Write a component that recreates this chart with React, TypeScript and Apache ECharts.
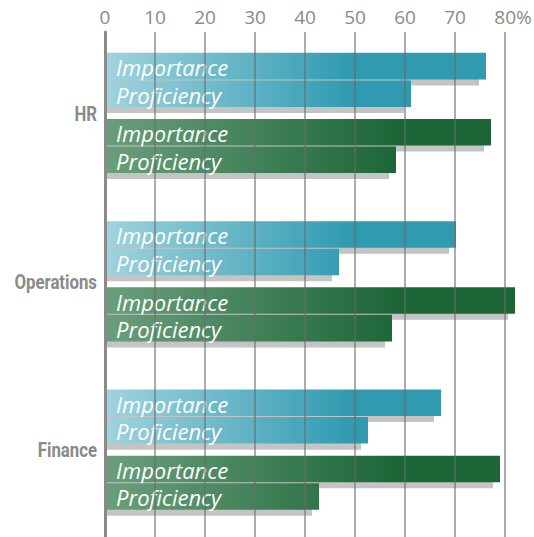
import React, { useEffect, useRef } from "react";
import * as echarts from "echarts";

// Skill areas, top to bottom
const categories = ["HR", "Operations", "Finance"];
// Bar captions inside each pair
const measures = ["Importance", "Proficiency"];
// Percent values, teal group
const tealImportance = [76.2, 70.2, 67.2];
const tealProficiency = [61.2, 46.8, 52.6];
// Percent values, green group
const greenImportance = [77.2, 82.0, 79.0];
const greenProficiency = [58.2, 57.4, 42.8];
// Axis ticks
const xTicks = [0, 10, 20, 30, 40, 50, 60, 70, 80];

const GRAY = "#8a8a8a";

export default function App() {
  const ref = useRef<HTMLDivElement>(null);

  useEffect(() => {
    if (!ref.current) return;
    const chart = echarts.init(ref.current, undefined, { renderer: "svg" });

    // [value, categoryIndex, slot] where slot 0..3 = teal imp, teal prof, green imp, green prof
    const rows: number[][] = [];
    categories.forEach((_, i) => {
      rows.push([tealImportance[i], i, 0]);
      rows.push([tealProficiency[i], i, 1]);
      rows.push([greenImportance[i], i, 2]);
      rows.push([greenProficiency[i], i, 3]);
    });

    const renderItem = (params: any, api: any) => {
      const val = api.value(0);
      const ci = api.value(1);
      const slot = api.value(2);
      const origin = api.coord([0, ci]);
      const end = api.coord([val, ci]);
      const x0 = origin[0];
      const cy = origin[1];
      const s = api.size([0, 1])[1] / 168;
      const teal = slot < 2;
      const isProf = slot % 2 === 1;
      const pairTop = cy + (teal ? -63.2 : 2.8) * s;
      const top = pairTop + (isProf ? 27.5 : 0) * s;
      const h = 26.5 * s;
      const fullAt = api.coord([teal ? 50 : 59, ci])[0];
      const fill = new echarts.graphic.LinearGradient(
        x0,
        0,
        fullAt,
        0,
        teal
          ? [
              { offset: 0, color: "#a0d3de" },
              { offset: 1, color: "#2f9ab0" },
            ]
          : [
              { offset: 0, color: "#6b9f7c" },
              { offset: 1, color: "#1b6537" },
            ],
        true
      );
      const children: any[] = [
        {
          type: "rect",
          shape: { x: x0, y: top + 6 * s, width: Math.max(0, end[0] - x0 - 7), height: h },
          style: { fill: "#c4c4c4" },
        },
        {
          type: "rect",
          shape: { x: x0, y: top, width: end[0] - x0, height: h },
          style: { fill },
        },
        {
          type: "text",
          x: x0 + 11,
          y: top + h / 2 + 1,
          style: {
            text: measures[isProf ? 1 : 0],
            fill: "#ffffff",
            fontFamily: "Open Sans",
            fontStyle: "italic",
            fontSize: 22,
            verticalAlign: "middle",
            align: "left",
          },
        },
      ];
      if (slot === 0) {
        // category name, condensed, right-aligned against the axis
        children.push({
          type: "text",
          x: x0 - 8,
          y: cy - 2 * s,
          scaleX: 0.84,
          style: {
            text: categories[ci],
            fill: GRAY,
            fontFamily: "Roboto",
            fontWeight: "bold",
            fontSize: 20,
            align: "right",
            verticalAlign: "middle",
          },
        });
      }
      return { type: "group", children };
    };

    chart.setOption({
      animation: false,
      grid: {
        left: 105,
        right: 29,
        top: 32,
        bottom: 0,
        containLabel: false,
        outerBoundsMode: "none",
      },
      xAxis: {
        type: "value",
        position: "top",
        min: xTicks[0],
        max: xTicks[xTicks.length - 1],
        interval: 10,
        z: 10,
        axisLine: { show: false },
        axisTick: { show: false },
        splitLine: { show: true, lineStyle: { color: "rgba(105,105,105,0.55)", width: 2 } },
        axisLabel: {
          color: GRAY,
          fontSize: 19,
          fontFamily: "Open Sans",
          margin: 6,
          formatter: (v: number) =>
            v === xTicks[xTicks.length - 1] ? "{pad|}" + v + "%" : String(v),
          rich: { pad: { width: 16 } },
        },
      },
      yAxis: {
        type: "category",
        data: categories,
        inverse: true,
        z: 10,
        axisLine: { show: true, lineStyle: { color: GRAY, width: 3 } },
        axisTick: { show: false },
        splitLine: { show: false },
        axisLabel: { show: false },
      },
      series: [
        {
          type: "custom",
          renderItem,
          clip: false,
          encode: { x: 0, y: 1 },
          data: rows,
        },
      ],
    });

    return () => chart.dispose();
  }, []);

  return (
    <div
      ref={ref}
      style={{ position: "absolute", left: 0, top: 0, width: 534, height: 537, background: "#fff" }}
    />
  );
}
